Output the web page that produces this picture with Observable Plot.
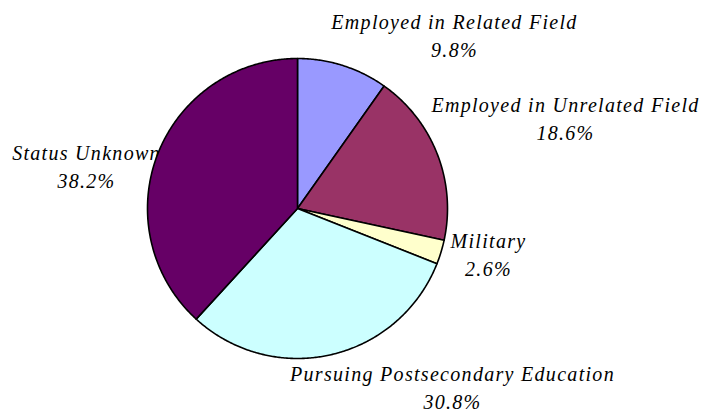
<!DOCTYPE html>
<html>
<head>
<meta charset="utf-8">
<script src="https://cdn.jsdelivr.net/npm/d3@7"></script>
<script src="https://cdn.jsdelivr.net/npm/@observablehq/plot@0.6"></script>
<style>
  html, body { margin: 0; padding: 0; background: #fff; }
</style>
</head>
<body>
<div id="chart"></div>
<script>
// ---- data ----
const categories = [
  "Employed in Related Field",
  "Employed in Unrelated Field",
  "Military",
  "Pursuing Postsecondary Education",
  "Status Unknown"
];
const percents = [9.8, 18.6, 2.6, 30.8, 38.2];
const sliceColors = ["#9999FF", "#993366", "#FFFFCC", "#CCFFFF", "#660066"];

// ---- layout (pixels) ----
const W = 713, H = 413;
const CX = 297, CY = 208, R = 150;
// label block centres, relative to pie centre (pixels)
const labelLayout = {
  "Employed in Related Field": [157, -174],
  "Employed in Unrelated Field": [268, -91],
  "Military": [191, 45],
  "Pursuing Postsecondary Education": [155, 178],
  "Status Unknown": [-211, -43]
};

// ---- geometry from data ----
const pie = d3.pie().sort(null).value(d => d.value);
const arcs = pie(categories.map((name, i) => ({name, value: percents[i]})));

const slicePts = [];
for (const a of arcs) {
  const name = a.data.name;
  const span = a.endAngle - a.startAngle;
  const steps = Math.max(2, Math.ceil(span * 180 / Math.PI * 2));
  slicePts.push({name, x: 0, y: 0});
  for (let k = 0; k <= steps; k++) {
    const t = a.startAngle + span * k / steps;
    slicePts.push({name, x: Math.sin(t), y: Math.cos(t)});
  }
  slicePts.push({name, x: 0, y: 0});
}

const labels = categories.map((name, i) => ({
  name,
  text: name + "\n" + percents[i].toFixed(1) + "%",
  x: labelLayout[name][0] / R,
  y: -labelLayout[name][1] / R
}));

const chart = Plot.plot({
  width: W,
  height: H,
  margin: 0,
  x: {domain: [-CX / R, (W - CX) / R], range: [0, W], axis: null},
  y: {domain: [-(H - CY) / R, CY / R], range: [H, 0], axis: null},
  color: {type: "ordinal", domain: categories, range: sliceColors},
  style: {background: "#fff", letterSpacing: "1.3px"},
  marks: [
    Plot.text(labels, {
      x: "x", y: "y", text: "text",
      fontFamily: "Liberation Serif",
      fontStyle: "italic",
      fontSize: 20,
      lineHeight: 1.4,
      fill: "#000",
      textAnchor: "middle"
    }),
    Plot.line(slicePts, {
      x: "x", y: "y", z: "name", fill: "name",
      stroke: "#000", strokeWidth: 1.6, strokeLinejoin: "round",
      curve: "linear"
    })
  ]
});
document.getElementById("chart").appendChild(chart);
</script>
</body>
</html>
